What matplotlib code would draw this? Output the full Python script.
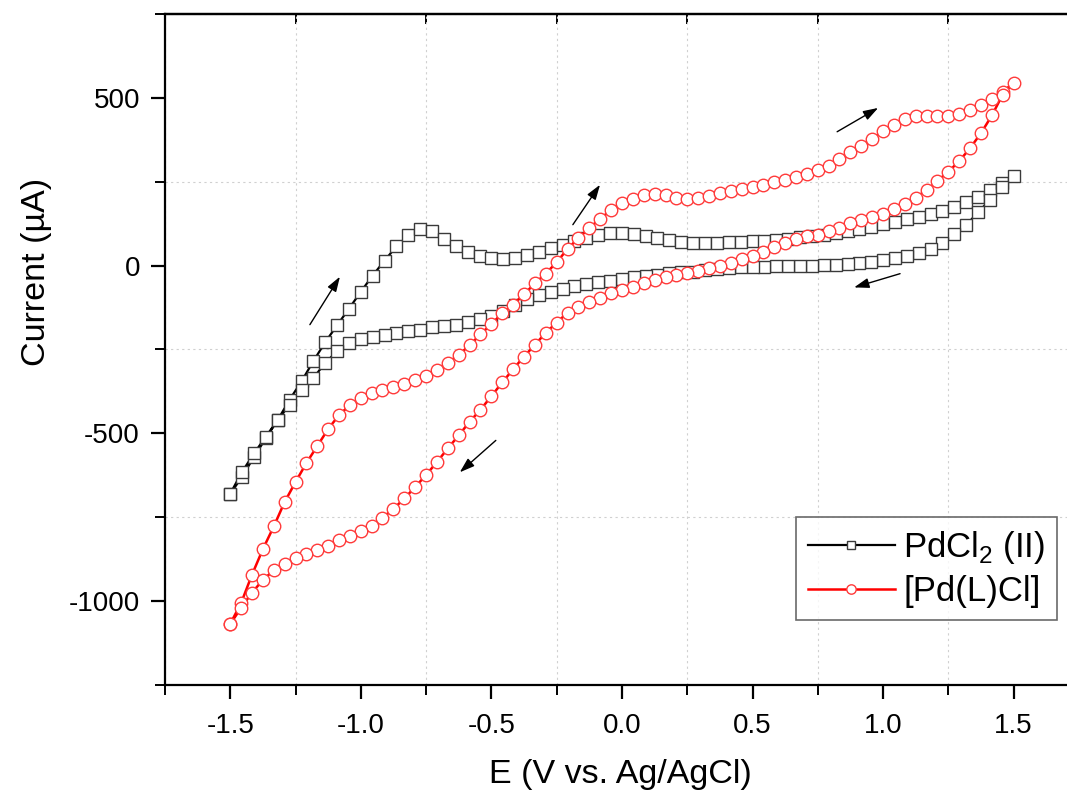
import matplotlib.pyplot as plt
from matplotlib.ticker import MultipleLocator

plt.rcParams['font.family'] = ['Liberation Sans', 'DejaVu Sans']
plt.rcParams['mathtext.fontset'] = 'custom'
plt.rcParams['mathtext.rm'] = 'Liberation Sans'
plt.rcParams['axes.unicode_minus'] = False   # plain hyphen like the original

# PdCl2 (II) - potential (V) and current (uA), forward scan -1.5 -> 1.5
pd_fwd_E = [-1.5, -1.455, -1.409, -1.364, -1.318, -1.273, -1.227, -1.182, -1.136, -1.091,
            -1.045, -1.0, -0.955, -0.909, -0.864, -0.818, -0.773, -0.727, -0.682, -0.636,
            -0.591, -0.545, -0.5, -0.455, -0.409, -0.364, -0.318, -0.273, -0.227, -0.182,
            -0.136, -0.091, -0.045, 0.0, 0.045, 0.091, 0.136, 0.182, 0.227, 0.273,
            0.318, 0.364, 0.409, 0.455, 0.5, 0.545, 0.591, 0.636, 0.682, 0.727,
            0.773, 0.818, 0.864, 0.909, 0.955, 1.0, 1.045, 1.091, 1.136, 1.182,
            1.227, 1.273, 1.318, 1.364, 1.409, 1.455, 1.5]
pd_fwd_I = [-680, -630, -570, -515, -460, -400, -345, -285, -228, -178,
            -128, -78, -30, 15, 57, 90, 108, 103, 80, 57,
            40, 29, 22, 21, 23, 32, 42, 51, 60, 74,
            83, 92, 96, 97, 94, 88, 81, 75, 70, 68,
            67, 68, 69, 71, 72, 74, 77, 80, 85, 89,
            92, 97, 103, 109, 116, 124, 131, 138, 146, 153,
            162, 175, 190, 205, 225, 245, 268]
# reverse scan 1.5 -> -1.5 (same potentials, read backwards)
pd_rev_E = pd_fwd_E[::-1]
pd_rev_I = [268, 235, 195, 160, 120, 93, 68, 50, 37, 28,
            22, 16, 11, 8, 5, 3, 1, 0, -1, -2,
            -2, -3, -3, -4, -6, -10, -14, -18, -20, -23,
            -27, -31, -35, -40, -46, -50, -54, -60, -70, -80,
            -88, -100, -118, -135, -150, -160, -168, -176, -181, -184,
            -191, -196, -200, -206, -212, -220, -230, -255, -290, -335,
            -370, -415, -460, -510, -560, -615, -680]

# [Pd(L)Cl] forward scan
pl_fwd_E = [-1.5, -1.458, -1.417, -1.375, -1.333, -1.292, -1.25, -1.208, -1.167, -1.125,
            -1.083, -1.042, -1.0, -0.958, -0.917, -0.875, -0.833, -0.792, -0.75, -0.708,
            -0.667, -0.625, -0.583, -0.542, -0.5, -0.458, -0.417, -0.375, -0.333, -0.292,
            -0.25, -0.208, -0.167, -0.125, -0.083, -0.042, 0.0, 0.042, 0.083, 0.125,
            0.167, 0.208, 0.25, 0.292, 0.333, 0.375, 0.417, 0.458, 0.5, 0.542,
            0.583, 0.625, 0.667, 0.708, 0.75, 0.792, 0.833, 0.875, 0.917, 0.958,
            1.0, 1.042, 1.083, 1.125, 1.167, 1.208, 1.25, 1.292, 1.333, 1.375,
            1.417, 1.458, 1.5]
pl_fwd_I = [-1068, -1005, -922, -845, -777, -705, -645, -588, -538, -487,
            -445, -416, -396, -381, -372, -363, -352, -340, -328, -310,
            -290, -266, -237, -205, -174, -142, -116, -85, -53, -24,
            10, 50, 82, 112, 140, 165, 186, 200, 210, 214,
            210, 203, 200, 201, 208, 215, 222, 228, 234, 241,
            248, 255, 263, 272, 284, 298, 317, 338, 357, 377,
            400, 420, 436, 445, 447, 445, 445, 452, 463, 478,
            498, 518, 545]
pl_rev_E = pl_fwd_E[::-1]
pl_rev_I = [545, 510, 448, 395, 350, 312, 280, 252, 225, 203,
            184, 168, 155, 144, 135, 126, 113, 102, 91, 87,
            78, 66, 54, 40, 30, 19, 8, 0, -7, -17,
            -21, -27, -34, -44, -53, -63, -73, -82, -98, -108,
            -122, -140, -170, -200, -236, -271, -309, -348, -389, -430,
            -465, -506, -545, -585, -624, -660, -694, -725, -752, -775,
            -792, -805, -818, -835, -848, -860, -871, -889, -908, -937,
            -975, -1020, -1068]

pd_E = pd_fwd_E + pd_rev_E[1:]
pd_I = pd_fwd_I + pd_rev_I[1:]
pl_E = pl_fwd_E + pl_rev_E[1:]
pl_I = pl_fwd_I + pl_rev_I[1:]

# scan direction arrows (tail, head)
arrows = [((-1.195, -176), (-1.08, -33)),
          ((-0.188, 122), (-0.084, 241)),
          ((0.824, 399), (0.981, 470)),
          ((1.065, -24), (0.889, -65)),
          ((-0.483, -521), (-0.621, -616))]

fig = plt.figure(figsize=(10.67, 7.95), dpi=100)
ax = fig.add_axes([0.1546, 0.1384, 0.8566, 0.844])

ax.plot(pd_E, pd_I, color='black', lw=1.6, marker='s', ms=8.5, mfc='white',
        mec='#3a3a3a', mew=1.0, label='PdCl$_2$ (II)')
ax.plot(pl_E, pl_I, color='red', lw=1.8, marker='o', ms=9, mfc='white',
        mec='#ff3a3a', mew=1.0, label='[Pd(L)Cl]')

for tail, head in arrows:
    ax.annotate('', xy=head, xytext=tail,
                arrowprops=dict(arrowstyle='-|>,head_length=0.9,head_width=0.3',
                                color='black', lw=1.0, shrinkA=0, shrinkB=0))

ax.set_xlim(-1.75, 1.75)
ax.set_ylim(-1250, 750)
ax.xaxis.set_minor_locator(MultipleLocator(0.25))
ax.yaxis.set_minor_locator(MultipleLocator(250))
ax.set_xticks([-1.5, -1.0, -0.5, 0.0, 0.5, 1.0, 1.5])
ax.set_yticks([-1000, -500, 0, 500])

ax.grid(which='minor', color='#d0d0d0', linestyle=(0, (2, 3)), lw=0.8)
ax.grid(which='major', visible=False)

for s in ax.spines.values():
    s.set_linewidth(1.6)
ax.tick_params(which='major', direction='out', length=10, width=1.6, labelsize=20)
ax.tick_params(which='minor', direction='out', length=7, width=1.4)
ax.tick_params(axis='x', which='major', pad=10)
ax.tick_params(axis='y', which='major', pad=8)

# top axis: small inward ticks between the labels
top = ax.secondary_xaxis('top')
top.set_xticks([-1.25, -0.75, -0.25, 0.25, 0.75, 1.25])
top.tick_params(direction='in', length=7, width=1.4, labeltop=False)
top.spines['top'].set_linewidth(1.6)

ax.set_xlabel('E (V vs. Ag/AgCl)', fontsize=24.5)
ax.xaxis.set_label_coords(0.498, -0.11)
ax.set_ylabel('Current (µA)', fontsize=24.5)
ax.yaxis.set_label_coords(-0.124, 0.615)

leg = ax.legend(loc='lower right', bbox_to_anchor=(0.976, 0.097), borderaxespad=0,
                fontsize=25, frameon=True, fancybox=False, edgecolor='#444444',
                handlelength=2.5, handletextpad=0.25, labelspacing=0.25,
                borderpad=0.35, markerscale=0.75)
leg.get_frame().set_linewidth(1.2)

fig.savefig('out.png', dpi=100)
